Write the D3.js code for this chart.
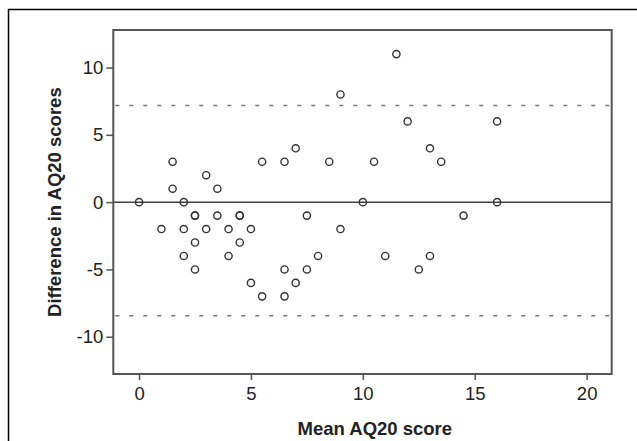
<!DOCTYPE html>
<html>
<head>
<meta charset="utf-8">
<script src="https://cdn.jsdelivr.net/npm/d3@7"></script>
<style>
  html, body { margin: 0; padding: 0; background: #fff; }
  svg { display: block; }
</style>
</head>
<body>
<svg id="chart" width="637" height="441"></svg>
<script>
// Data: Bland-Altman points (mean score, difference)
const meanScores = [0, 1, 1.5, 1.5, 2, 2, 2, 2.5, 2.5, 2.5, 2.5, 3, 3, 3.5, 3.5, 4, 4, 4.5, 4.5, 4.5, 5, 5, 5.5, 5.5, 6.5, 6.5, 6.5, 7, 7, 7.5, 7.5, 8, 8.5, 9, 9, 10, 10.5, 11, 11.5, 12, 12.5, 13, 13, 13.5, 14.5, 16, 16];
const differences = [0, -2, 3, 1, 0, -2, -4, -1, -1, -3, -5, 2, -2, 1, -1, -2, -4, -1, -1, -3, -2, -6, 3, -7, 3, -5, -7, 4, -6, -1, -5, -4, 3, 8, -2, 0, 3, -4, 11, 6, -5, 4, -4, 3, -1, 6, 0];
const meanLine = [0];
const limitsOfAgreement = [7.18, -8.44];
const xTicks = [0, 5, 10, 15, 20];
const yTicks = [-10, -5, 0, 5, 10];
const xDomain = [-1.15, 21.12];
const yDomain = [-12.77, 12.79];
const xTitle = "Mean AQ20 score";
const yTitle = "Difference in AQ20 scores";

const svg = d3.select("#chart");
const plot = { left: 113.3, right: 611.7, top: 30, bottom: 374 };

const x = d3.scaleLinear().domain(xDomain).range([plot.left, plot.right]);
const y = d3.scaleLinear().domain(yDomain).range([plot.bottom, plot.top]);

// outer frame
svg.append("rect")
  .attr("x", 8.5).attr("y", 9.5)
  .attr("width", 700).attr("height", 500)
  .attr("fill", "none").attr("stroke", "#000").attr("stroke-width", 1.5);

const frameColor = "#555";
const fontFamily = "'Liberation Sans', Arial, sans-serif";

// reference lines
svg.selectAll("line.mean").data(meanLine).enter().append("line")
  .attr("class", "mean")
  .attr("x1", plot.left).attr("x2", plot.right)
  .attr("y1", d => y(d)).attr("y2", d => y(d))
  .attr("stroke", "#444").attr("stroke-width", 1.5);

svg.selectAll("line.loa").data(limitsOfAgreement).enter().append("line")
  .attr("class", "loa")
  .attr("x1", plot.left + 2).attr("x2", plot.right)
  .attr("y1", d => y(d)).attr("y2", d => y(d))
  .attr("stroke", "#777").attr("stroke-width", 1.5)
  .attr("stroke-dasharray", "4,10");

// points
const pts = meanScores.map((m, i) => ({ m, d: differences[i] }));
svg.selectAll("circle.pt").data(pts).enter().append("circle")
  .attr("class", "pt")
  .attr("cx", d => x(d.m)).attr("cy", d => y(d.d))
  .attr("r", 3.6)
  .attr("fill", "none").attr("stroke", "#333").attr("stroke-width", 1.4);

// plot frame
svg.append("rect")
  .attr("x", plot.left).attr("y", plot.top)
  .attr("width", plot.right - plot.left).attr("height", plot.bottom - plot.top)
  .attr("fill", "none").attr("stroke", frameColor).attr("stroke-width", 2);

// axes
const fmt = d => String(d);
const xAxis = d3.axisBottom(x).tickValues(xTicks).tickFormat(fmt).tickSize(6).tickSizeOuter(0).tickPadding(7);
const gx = svg.append("g").attr("transform", `translate(0,${plot.bottom})`).call(xAxis);
gx.select(".domain").remove();
gx.selectAll(".tick line").attr("stroke", frameColor).attr("stroke-width", 1.5);
gx.selectAll(".tick text").attr("fill", "#222")
  .style("font-family", fontFamily).style("font-size", "18.5px");

const yAxis = d3.axisLeft(y).tickValues(yTicks).tickFormat(fmt).tickSize(7).tickSizeOuter(0).tickPadding(3);
const gy = svg.append("g").attr("transform", `translate(${plot.left},0)`).call(yAxis);
gy.select(".domain").remove();
gy.selectAll(".tick line").attr("stroke", frameColor).attr("stroke-width", 1.5);
gy.selectAll(".tick text").attr("fill", "#222")
  .style("font-family", fontFamily).style("font-size", "18.5px");

// titles
svg.append("text")
  .attr("x", (x(0) + x(20)) / 2 + 12).attr("y", 435)
  .attr("text-anchor", "middle")
  .attr("fill", "#222")
  .style("font-family", fontFamily)
  .style("font-size", "18.5px").style("font-weight", "bold")
  .text(xTitle);

svg.append("text")
  .attr("transform", `translate(61,${y(0)}) rotate(-90)`)
  .attr("text-anchor", "middle")
  .attr("fill", "#222")
  .style("font-family", fontFamily)
  .style("font-size", "18.5px").style("font-weight", "bold")
  .text(yTitle);
</script>
</body>
</html>
